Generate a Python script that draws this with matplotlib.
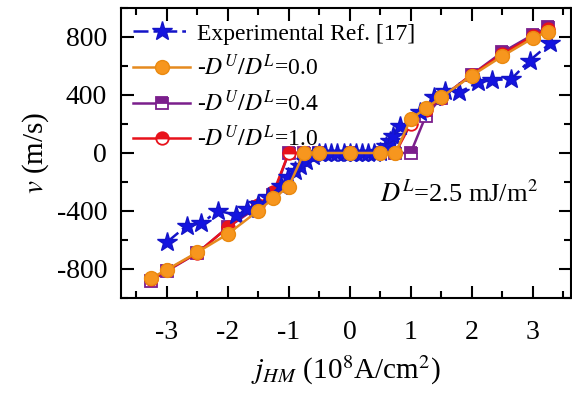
import matplotlib
matplotlib.use("Agg")
import matplotlib.pyplot as plt
from matplotlib.ticker import MultipleLocator

plt.rcParams['font.family'] = ['Liberation Serif', 'DejaVu Serif']
plt.rcParams['mathtext.fontset'] = 'stix'
plt.rcParams['axes.unicode_minus'] = False

# experimental data (Ref. [17])
x_exp = [-3.0, -2.67, -2.43, -2.16, -1.86, -1.69, -1.5, -1.34, -1.12, -1.01, -0.9, -0.82,
         -0.71, -0.6, -0.5, -0.4, -0.3, -0.2, -0.1, 0.0, 0.1, 0.2, 0.3, 0.4, 0.5, 0.6, 0.66,
         0.71, 0.82, 1.15, 1.39, 1.56, 1.8, 2.1, 2.34, 2.65, 2.95, 3.29]
v_exp = [-616, -501, -485, -398, -428, -386, -352, -306, -225, -168, -122, -87,
         -53, -18, 0, 0, 0, 0, 0, 0, 0, 0, 0, 0, 5, 50, 85,
         120, 188, 281, 384, 430, 418, 487, 503, 510, 637, 757]

# simulations
x_sim = [-3.25, -3.0, -2.5, -2.0, -1.5, -1.25, -1.0, -0.75, -0.5, 0.0, 0.5, 0.75,
         1.0, 1.25, 1.5, 2.0, 2.5, 3.0, 3.25]
v_00 = [-862, -805, -685, -559, -398, -313, -232, 0, 0, 0, 0, 0,
        234, 308, 384, 533, 667, 791, 837]
v_04 = [-880, -815, -690, -513, -370, -290, 0, 0, 0, 0, 0, 0,
        0, 257, 380, 540, 694, 814, 867]
v_10 = [-870, -810, -690, -513, -359, -271, 0, 0, 0, 0, 0, 0,
        200, 300, 380, 540, 680, 805, 855]

labels = ['Experimental Ref. [17]', r'-$D^U/D^L$=0.0', r'-$D^U/D^L$=0.4', r'-$D^U/D^L$=1.0']

fig = plt.figure(figsize=(5.72, 3.97), dpi=100)
ax = fig.add_axes([121 / 572, 1 - 298 / 397, 450 / 572, 290 / 397])

h04, = ax.plot(x_sim, v_04, '-', color='#7B1F8C', lw=1.8, marker='s', ms=8,
               fillstyle='top', mfc='#7B1F8C', mfcalt='white', mec='#7B1F8C', mew=1.3)
h10, = ax.plot(x_sim, v_10, '-', color='#E8121B', lw=1.8, marker='o', ms=9,
               fillstyle='top', mfc='#E8121B', mfcalt='white', mec='#E8121B', mew=1.3)
hexp, = ax.plot(x_exp, v_exp, '-.', color='#1414C8', lw=1.8, marker='*', ms=15,
                mfc='#1414E0', mec='#1414C8', dashes=(6, 2, 1.5, 2))
h00, = ax.plot(x_sim, v_00, '-', color='#E58A1F', lw=1.8, marker='o', ms=10,
               mfc='#F7961E', mec='#EA8A10', mew=1.0)

ax.set_xlim(-3.75, 3.63)
ax.set_ylim(-1000, 1000)
ax.xaxis.set_major_locator(MultipleLocator(1))
ax.xaxis.set_minor_locator(MultipleLocator(0.5))
ax.yaxis.set_major_locator(MultipleLocator(400))
ax.yaxis.set_minor_locator(MultipleLocator(200))
ax.tick_params(which='both', direction='in', top=True, right=True, width=1.5,
               labelsize=20)
ax.tick_params(axis='x', pad=16)
ax.tick_params(axis='y', pad=10)
ax.tick_params(which='major', length=9)
ax.tick_params(which='minor', length=5)
for s in ax.spines.values():
    s.set_linewidth(1.5)

ax.set_ylabel(r'$v$ (m/s)', fontsize=21, labelpad=4)
ax.set_xlabel(r'$j_{HM}$ (10$^8$A/cm$^2$)', fontsize=21, labelpad=6)

ax.text(1.8, -283, r'$D^L$=2.5 mJ/m$^2$', fontsize=19, ha='center', va='center')

ax.legend([hexp, h00, h04, h10], labels, loc='upper left', bbox_to_anchor=(0.012, 0.972),
          frameon=False, fontsize=17, handlelength=2.4, handletextpad=0.3,
          labelspacing=0.42, borderaxespad=0.0, borderpad=0.3)

fig.savefig('out.png', dpi=100)
